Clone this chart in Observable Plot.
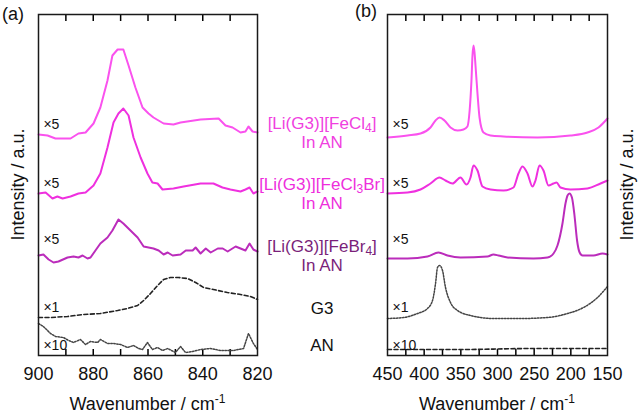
<!DOCTYPE html>
<html><head><meta charset="utf-8">
<script src="https://cdn.jsdelivr.net/npm/d3@7"></script>
<script src="https://cdn.jsdelivr.net/npm/@observablehq/plot@0.6"></script>
<style>
body{margin:0;background:#fff;font-family:"Liberation Sans",Arial,sans-serif;}
#wrap{position:relative;width:638px;height:415px;overflow:hidden;}
.ch{position:absolute;top:0;}
.lab{position:absolute;text-align:center;font-size:17px;line-height:19px;white-space:nowrap;}
.lab sub{font-size:12px;vertical-align:-3px;line-height:0;}
.t{position:absolute;font-size:18px;white-space:nowrap;color:#111;}
</style></head>
<body><div id="wrap"></div>
<script>
// ---------- Panel (a) 900–820 cm-1 ----------
const aTicks = [900, 880, 860, 840, 820];
const aMinor = [890, 880, 870, 860, 850, 840, 830];
const aCl4_x = [900,896.7,893.8,888.3,885.4,882.8,879.9,877.4,874.8,873.0,871.1,869.0,867.1,864.6,862.0,859.8,858.0,854.3,850.7,848.1,840.8,834.2,831.7,829.1,826.2,824.4,823.3,821.8,820];
const aCl4_y = [221,220,217,217,222,223,232,248,275,300,306,306,290,268,248,242,238,232,231,233,236,237,230,228,223,224,229,224,223];
const aCl3Br_x = [900,897.4,894.9,893.1,891.2,888.3,885.4,882.8,879.9,877.4,874.8,872.6,870.8,869.0,867.1,865.3,862.7,860.2,858.4,856.5,854.7,850.7,847.0,840.8,836.1,832.8,829.9,826.2,824.4,822.9,821.5,820];
const aCl3Br_y = [162,163,157,159,157,159,162,163,170,182,208,233,242,247,240,218,198,182,173,172,166,167,169,172,172,168,166,164,166,168,162,164];
const aBr4_x = [900,898.2,896.3,894.5,892.7,889.4,887.2,885.4,883.9,882.1,881.0,879.2,877.4,874.8,873.0,870.8,869.0,866.4,863.8,861.6,858.0,856.1,854.3,852.8,851.0,848.1,846.2,843.7,842.6,840.8,838.9,837.1,834.5,832.7,830.9,828.0,824.4,822.9,821.5,820];
const aBr4_y = [100,101,96,93,94,98,99,98,100,97,98,105,112,118,125,136,132,125,118,109,107,105,101,103,100,101,105,105,108,102,107,103,107,107,104,109,105,112,106,104];
const aG3_x = [900,895.6,889.4,883.6,877.4,871.1,867.5,863.8,861.6,859.1,856.5,854.3,851.8,848.9,845.6,842.6,839.7,836.1,831.0,826.2,822.6,820];
const aG3_y = [38,38,39,41,42,45,47,50,55,62,70,76,78,78,77,73,68,66,63,61,59,56];
const aAN_x = [900,898.2,895.6,893.8,890.9,889.0,887.2,884.7,882.8,881.0,878.4,877.4,874.8,872.6,870.0,867.5,865.3,863.4,862.0,860.2,858.4,856.5,854.7,852.8,850.0,848.1,846.3,843.7,840.8,837.2,833.5,828.8,825.1,823.3,821.5,820];
const aAN_y = [32,29,22,19,18,15,13,16,11,14,13,16,12,12,11,8,10,7,6,13,6,8,5,7,3,9,3,4,6,7,5,5,7,22,12,6];

// ---------- Panel (b) 450–150 cm-1 ----------
const bTicks = [450, 400, 350, 300, 250, 200, 150];
const bMinor = [425, 400, 375, 350, 325, 300, 275, 250, 225, 200, 175];
const bCl4_x = [450,422.7,405,391.4,384.5,379.1,372.3,364.1,354.5,346.4,341,338,335.5,334.1,332.7,331.3,330,327.3,324.5,319.1,309.5,291.8,245.5,200.5,177.3,162.3,150];
const bCl4_y = [218,220,222,228,235,238,235,228,225,226,229,245,275,300,310,303,290,262,238,223,220,219,218,220,223,228,237];
const bCl3Br_x = [450,422.7,405,391.4,379.1,370.9,361.4,350.5,342.3,336.8,332.7,327.3,320.5,309.5,291.8,278.2,271.4,265.9,259.1,252.3,248.2,242.7,237.3,230.5,223.6,219.5,214.1,200.5,177.3,159.5,150];
const bCl3Br_y = [162,163,166,172,178,175,172,178,171,178,190,185,169,166,165,168,182,189,182,169,175,190,185,170,172,173,168,166,167,172,175];
const bBr4_x = [450,422.7,395.5,380.5,368.2,350.5,313.6,305.5,298.6,286.4,250.9,231.8,223.6,218.2,211.4,207.3,204.5,201.8,198.5,195,191.5,188,184,169.1,156.8,150];
const bBr4_y = [97,97,99,103,100,98,99,101,100,98,97,98,102,110,132,152,160,162,158,140,115,103,100,100,102,101];
const bG3_x = [450,428.2,409.1,395.5,388.6,384.5,381.8,379.1,375,370.9,364.1,354.5,336.8,305.5,268.6,231.8,204.5,182.7,163.6,150];
const bG3_y = [37,38,42,47,55,72,88,90,85,68,53,45,40,37,37,38,42,48,58,69];
const bAN_x = [450,350,250,150];
const bAN_y = [6,6,7,7];

// multiplier labels
const multText = ["×5","×5","×5","×1","×10"];
const multY = [231,172,116,48,10];

const cCl4 = "#fa52ee", cCl3Br = "#ef30df", cBr4 = "#bb2cbb", cBr4Label = "#7a1f7a";

const pts = (xs, ys) => xs.map((x, i) => ({x, y: ys[i]}));

function panel(opts) {
  return Plot.plot({
    width: opts.width, height: 415,
    marginLeft: opts.ml, marginRight: opts.mr, marginTop: 14, marginBottom: 60,
    x: {domain: opts.xdom},
    y: {domain: [0, 341], axis: null},
    style: {fontFamily: "Liberation Sans, Arial, sans-serif", fontSize: "18px", background: "transparent", color: "#111"},
    marks: [
      Plot.axisX({ticks: opts.ticks, tickSize: 0, tickPadding: 12, label: null, fontSize: 18, tickFormat: d => d}),
      Plot.axisX(opts.minor, {anchor: "top", tickSize: -6, tickFormat: () => "", label: null, stroke: "black", strokeWidth: 1.5}),
      Plot.axisX(opts.minor, {anchor: "bottom", tickSize: -6, tickFormat: () => "", label: null, stroke: "black", strokeWidth: 1.5}),
      ...opts.lines.map(l => Plot.line(pts(l.x, l.y), {x: "x", y: "y", stroke: l.color, strokeWidth: l.w, strokeDasharray: l.dash, curve: opts.curve})),
      Plot.text(multText.map((t, i) => ({t, y: multY[i]})), {x: opts.multX, y: "y", text: "t", textAnchor: "start", fontSize: 14, fill: "#111"}),
      Plot.frame({stroke: "#1a1a1a", strokeWidth: 1.5})
    ]
  });
}

const chartA = panel({
  width: 320, ml: 38, mr: 63, xdom: [900, 820], ticks: aTicks, minor: aMinor, multX: 898.2, curve: "linear",
  lines: [
    {x: aCl4_x, y: aCl4_y, color: cCl4, w: 2},
    {x: aCl3Br_x, y: aCl3Br_y, color: cCl3Br, w: 2},
    {x: aBr4_x, y: aBr4_y, color: cBr4, w: 2},
    {x: aG3_x, y: aG3_y, color: "#222", w: 1.6, dash: "4,2.5"},
    {x: aAN_x, y: aAN_y, color: "#444", w: 1.5, dash: "1.5,1.5"}
  ]
});
const chartB = panel({
  width: 318, ml: 67, mr: 31, xdom: [450, 150], ticks: bTicks, minor: bMinor, multX: 443.2, curve: "monotone-x",
  lines: [
    {x: bCl4_x, y: bCl4_y, color: cCl4, w: 2},
    {x: bCl3Br_x, y: bCl3Br_y, color: cCl3Br, w: 2},
    {x: bBr4_x, y: bBr4_y, color: cBr4, w: 2},
    {x: bG3_x, y: bG3_y, color: "#444", w: 1.5, dash: "1.5,1.5"},
    {x: bAN_x, y: bAN_y, color: "#222", w: 1.6, dash: "4,2.5"}
  ]
});

const wrap = document.getElementById("wrap");
chartA.classList.add("ch"); chartA.style.left = "0px";
chartB.classList.add("ch"); chartB.style.left = "320px";
wrap.appendChild(chartA); wrap.appendChild(chartB);

function addHTML(html) { wrap.insertAdjacentHTML("beforeend", html); }
// middle legend labels
addHTML(`<div class="lab" style="left:257px;width:130px;top:114px;color:#f040e0">[Li(G3)][FeCl<sub>4</sub>]<br>In AN</div>`);
addHTML(`<div class="lab" style="left:257px;width:130px;top:175px;color:#ee2edc">[Li(G3)][FeCl<sub>3</sub>Br]<br>In AN</div>`);
addHTML(`<div class="lab" style="left:257px;width:130px;top:237px;color:${cBr4Label}">[Li(G3)][FeBr<sub>4</sub>]<br>In AN</div>`);
addHTML(`<div class="lab" style="left:257px;width:130px;top:299px;color:#111">G3</div>`);
addHTML(`<div class="lab" style="left:257px;width:130px;top:336px;color:#111">AN</div>`);
// panel tags
addHTML(`<div class="t" style="left:2px;top:4px">(a)</div>`);
addHTML(`<div class="t" style="left:355px;top:1px">(b)</div>`);
// axis titles
addHTML(`<div class="t" style="left:38px;width:219px;text-align:center;top:394px">Wavenumber / cm<sup style="font-size:12px;line-height:0">-1</sup></div>`);
addHTML(`<div class="t" style="left:387px;width:220px;text-align:center;top:394px">Wavenumber / cm<sup style="font-size:12px;line-height:0">-1</sup></div>`);
addHTML(`<div class="t" style="left:-82px;width:200px;text-align:center;top:174px;transform:rotate(-90deg)">Intensity / a.u.</div>`);
addHTML(`<div class="t" style="left:527px;width:200px;text-align:center;top:174px;transform:rotate(-90deg)">Intensity / a.u.</div>`);
</script>
</body></html>
